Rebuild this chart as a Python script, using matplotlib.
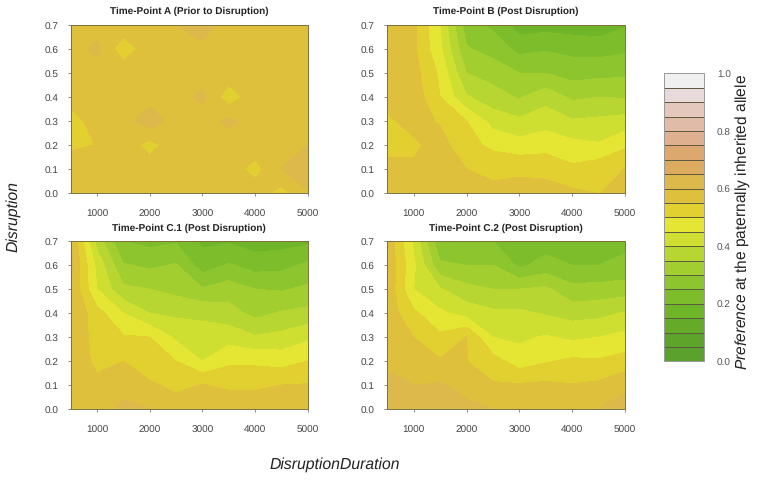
import numpy as np
import matplotlib
matplotlib.use('Agg')
import matplotlib.pyplot as plt
from matplotlib.colors import ListedColormap, BoundaryNorm

plt.rcParams['font.family'] = ['Liberation Sans', 'DejaVu Sans']
plt.rcParams['mathtext.fontset'] = 'custom'
plt.rcParams['mathtext.it'] = 'Liberation Sans:italic'
plt.rcParams['mathtext.rm'] = 'Liberation Sans'
plt.rcParams['text.hinting'] = 'none'

durations = [500, 1000, 1500, 2000, 2500, 3000, 3500, 4000, 4500, 5000]
disruption = [0.0, 0.1, 0.2, 0.3, 0.4, 0.5, 0.6, 0.7]
levels = [round(i * 0.05, 2) for i in range(21)]
band_colors = ['#5BA12E', '#5EA42B', '#66AA2A', '#6FB52A', '#7DBD2B', '#8DC52E', '#A2CE30',
               '#B7D632', '#CFDF32', '#E5E533', '#E2D030', '#DFC03C', '#DDB84A', '#DCAB60',
               '#DCA870', '#DFB090', '#E0BCA8', '#E4C8BC', '#E8DADA', '#F0F0F0']

# one list per duration, going up in disruption
point_a = [[.58, .58, .54, .52, .58, .58, .58, .58],
           [.58, .58, .551, .58, .58, .58, .61, .58],
           [.58, .58, .58, .58, .58, .58, .52, .58],
           [.58, .58, .53, .63, .58, .58, .58, .58],
           [.58, .58, .58, .58, .58, .58, .58, .60],
           [.58, .58, .58, .58, .61, .58, .59, .62],
           [.58, .58, .58, .61, .52, .58, .58, .58],
           [.58, .53, .58, .58, .58, .58, .58, .58],
           [.53, .601, .58, .58, .58, .58, .58, .58],
           [.595, .63, .60, .58, .58, .58, .58, .58]]
point_b = [[.55, .56, .54, .54, .57, .58, .58, .58],
           [.58, .56, .54, .57, .58, .57, .56, .56],
           [.58, .58, .57, .545, .50, .49, .46, .45],
           [.58, .55, .515, .50, .405, .35, .305, .27],
           [.57, .53, .49, .43, .37, .33, .28, .24],
           [.57, .54, .47, .41, .345, .30, .235, .175],
           [.57, .535, .48, .43, .38, .30, .245, .18],
           [.56, .51, .465, .405, .34, .28, .235, .175],
           [.549, .53, .455, .41, .35, .285, .23, .17],
           [.56, .551, .49, .42, .345, .29, .24, .195]]
point_c1 = [[.58, .58, .58, .59, .60, .60, .61, .61],
            [.58, .56, .54, .53, .52, .45, .435, .38],
            [.61, .585, .55, .505, .45, .36, .305, .25],
            [.60, .56, .51, .50, .40, .35, .29, .235],
            [.58, .535, .50, .44, .39, .335, .305, .245],
            [.58, .552, .45, .42, .39, .305, .225, .19],
            [.585, .54, .49, .43, .37, .325, .255, .195],
            [.585, .54, .49, .405, .335, .30, .23, .175],
            [.58, .55, .48, .415, .355, .295, .235, .18],
            [.58, .553, .50, .44, .365, .31, .26, .19]]
point_c2 = [[.64, .615, .59, .58, .58, .59, .59, .59],
            [.62, .60, .575, .55, .51, .45, .46, .44],
            [.62, .605, .555, .51, .46, .405, .31, .255],
            [.61, .585, .551, .551, .43, .365, .30, .25],
            [.60, .555, .52, .45, .41, .35, .30, .25],
            [.585, .555, .475, .44, .41, .35, .24, .21],
            [.58, .56, .495, .455, .395, .36, .27, .225],
            [.585, .552, .51, .44, .38, .315, .25, .22],
            [.60, .56, .505, .45, .385, .32, .25, .225],
            [.62, .59, .52, .465, .405, .325, .26, .24]]

panels = [('Time-Point A (Prior to Disruption)', point_a, [70.7, 26, 307.7, 194]),
          ('Time-Point B (Post Disruption)', point_b, [387.3, 26, 625, 194]),
          ('Time-Point C.1 (Post Disruption)', point_c1, [70.7, 242.3, 307.7, 410]),
          ('Time-Point C.2 (Post Disruption)', point_c2, [387.3, 242.3, 625, 410])]

W, H = 759, 481
cmap = ListedColormap(band_colors)
norm = BoundaryNorm(levels, cmap.N)
fig = plt.figure(figsize=(W / 100, H / 100), dpi=100)


def add_axes(box):
    l, t, r, b = box
    return fig.add_axes([l / W, 1 - b / H, (r - l) / W, (b - t) / H])


for title, values, box in panels:
    ax = add_axes(box)
    cf = ax.contourf(durations, disruption, np.array(values).T, levels=levels, cmap=cmap, norm=norm)
    ax.set_xlim(500, 5000)
    ax.set_ylim(0, 0.7)
    ax.set_xticks([1000, 2000, 3000, 4000, 5000])
    ax.set_yticks(disruption)
    ax.tick_params(labelsize=7.2, labelcolor='#444444', color='#777777', length=2.5, width=0.6)
    ax.tick_params(axis='x', pad=8.5)
    ax.tick_params(axis='y', pad=6.5)
    for s in ax.spines.values():
        s.set_color('#7d7040')
        s.set_linewidth(0.7)
    ax.set_title(title, fontsize=7.2, fontweight='bold', color='#222222', pad=8.5)

cax = add_axes([664.3, 74.3, 704.3, 362.3])
cb = fig.colorbar(cf, cax=cax, ticks=[0, .2, .4, .6, .8, 1.0], drawedges=True, spacing='proportional')
cb.minorticks_off()
cb.dividers.set_color('#5a5a40')
cb.dividers.set_linewidth(0.7)
cb.outline.set_edgecolor('#999999')
cb.outline.set_linewidth(0.7)
cb.ax.tick_params(labelsize=7.2, labelcolor='#555555', length=0, pad=9)
cb.ax.tick_params(which='minor', length=0)
cb.ax.set_yticklabels(['0.0', '0.2', '0.4', '0.6', '0.8', '1.0'])

fig.text(743 / W, 1 - 222 / H, r'$\mathit{Preference}$ at the paternally inherited allele',
         rotation=90, ha='center', va='center', fontsize=11.2, color='#222222')
fig.text(13 / W, 1 - 217 / H, 'Disruption', rotation=90, ha='center', va='center',
         fontsize=11.3, style='italic', color='#222222')
fig.text(335 / W, 1 - 465 / H, 'DisruptionDuration', ha='center', va='center',
         fontsize=11.3, style='italic', color='#222222')

fig.savefig('out.png', dpi=100)
